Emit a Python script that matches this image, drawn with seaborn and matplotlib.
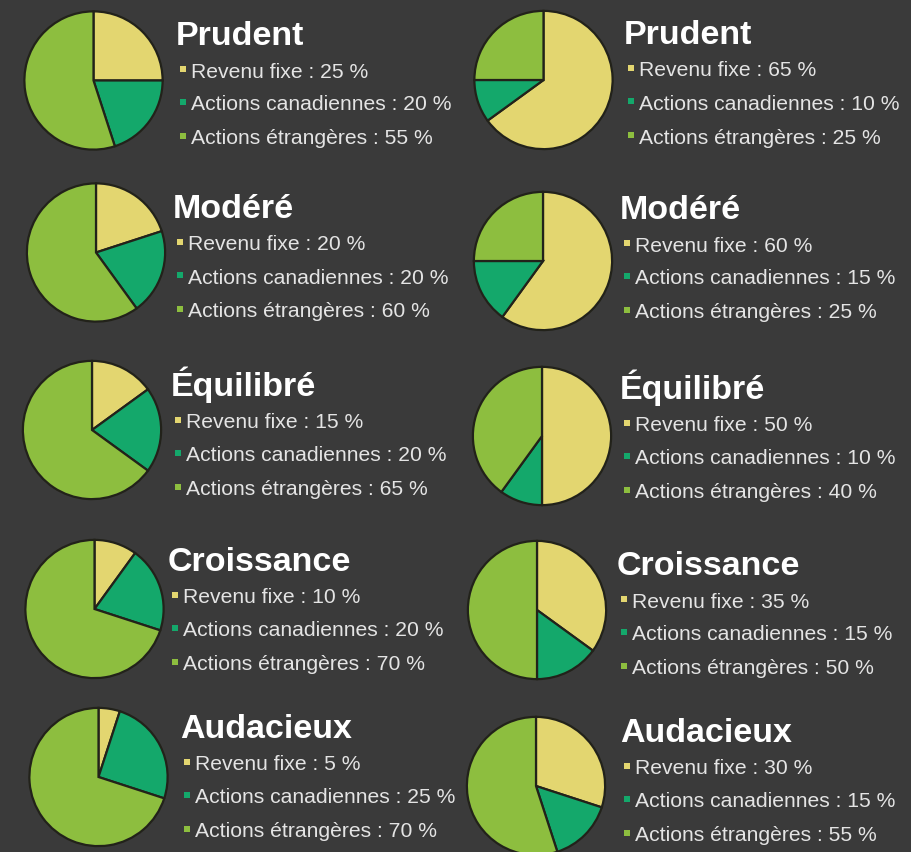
import numpy as np
import matplotlib
matplotlib.use("Agg")
import matplotlib.pyplot as plt
from matplotlib.patches import Rectangle
import seaborn as sns

# ------------------------------
# Data
# ------------------------------
profiles = ["Prudent", "Modéré", "Équilibré", "Croissance", "Audacieux"]
categories = ["Revenu fixe", "Actions canadiennes", "Actions étrangères"]

left_revenu = [25, 20, 15, 10, 5]
left_canada = [20, 20, 20, 20, 25]
left_etranger = [55, 60, 65, 70, 70]

right_revenu = [65, 60, 50, 35, 30]
right_canada = [10, 15, 10, 15, 15]
right_etranger = [25, 25, 40, 50, 55]

# ------------------------------
# Style / layout (pixels)
# ------------------------------
sns.set_theme(style="dark")
plt.rcParams['font.family'] = ['Liberation Sans', 'DejaVu Sans']

bg = "#3a3a3a"
palette = sns.color_palette(["#e3d670", "#14a86b", "#8dbe3f"])
edge = "#22221a"

W, H = 912, 853
radius = 70.5

left_centers = [(93.5, 81.5), (96, 253.5), (92, 431), (94.5, 610), (98.5, 778)]
right_centers = [(543.5, 81), (543, 262), (542, 437), (537, 611), (536, 787)]

left_titles = [(176, 33), (173, 206), (171, 384), (168, 559), (180, 726)]
right_titles = [(624, 32), (620, 207), (620, 387), (617, 563), (620, 730)]

line_offsets = [37, 70, 104]

fig = plt.figure(figsize=(W / 100, H / 100), dpi=100)
fig.patch.set_facecolor(bg)


def draw_pie(center, values):
    cx, cy = center
    ax = fig.add_axes([(cx - radius) / W, 1 - (cy + radius) / H,
                       2 * radius / W, 2 * radius / H])
    ax.pie(values, colors=palette, startangle=90, counterclock=False,
           wedgeprops=dict(edgecolor=edge, linewidth=1.6))
    ax.set_xlim(-1.02, 1.02)
    ax.set_ylim(-1.02, 1.02)
    ax.set_facecolor("none")
    ax.axis("off")


def draw_text(anchor, name, values):
    tx, ty = anchor
    fig.text(tx / W, 1 - (ty + 12) / H, name, color="white",
             fontsize=24.5, fontweight="bold", va="baseline", ha="left")
    for i, (cat, val) in enumerate(zip(categories, values)):
        ly = ty + line_offsets[i]
        fig.patches.append(Rectangle(((tx + 4) / W, 1 - (ly + 3) / H),
                                     6 / W, 6 / H, transform=fig.transFigure,
                                     facecolor=palette[i], edgecolor="none"))
        fig.text((tx + 15) / W, 1 - (ly + 7.5) / H, f"{cat} : {val} %",
                 color="#e4e4e4", fontsize=15.2, va="baseline", ha="left")


for i, name in enumerate(profiles):
    lv = [left_revenu[i], left_canada[i], left_etranger[i]]
    rv = [right_revenu[i], right_canada[i], right_etranger[i]]
    draw_pie(left_centers[i], lv)
    draw_pie(right_centers[i], rv)
    draw_text(left_titles[i], name, lv)
    draw_text(right_titles[i], name, rv)

fig.savefig("out.png", dpi=100, facecolor=bg)
